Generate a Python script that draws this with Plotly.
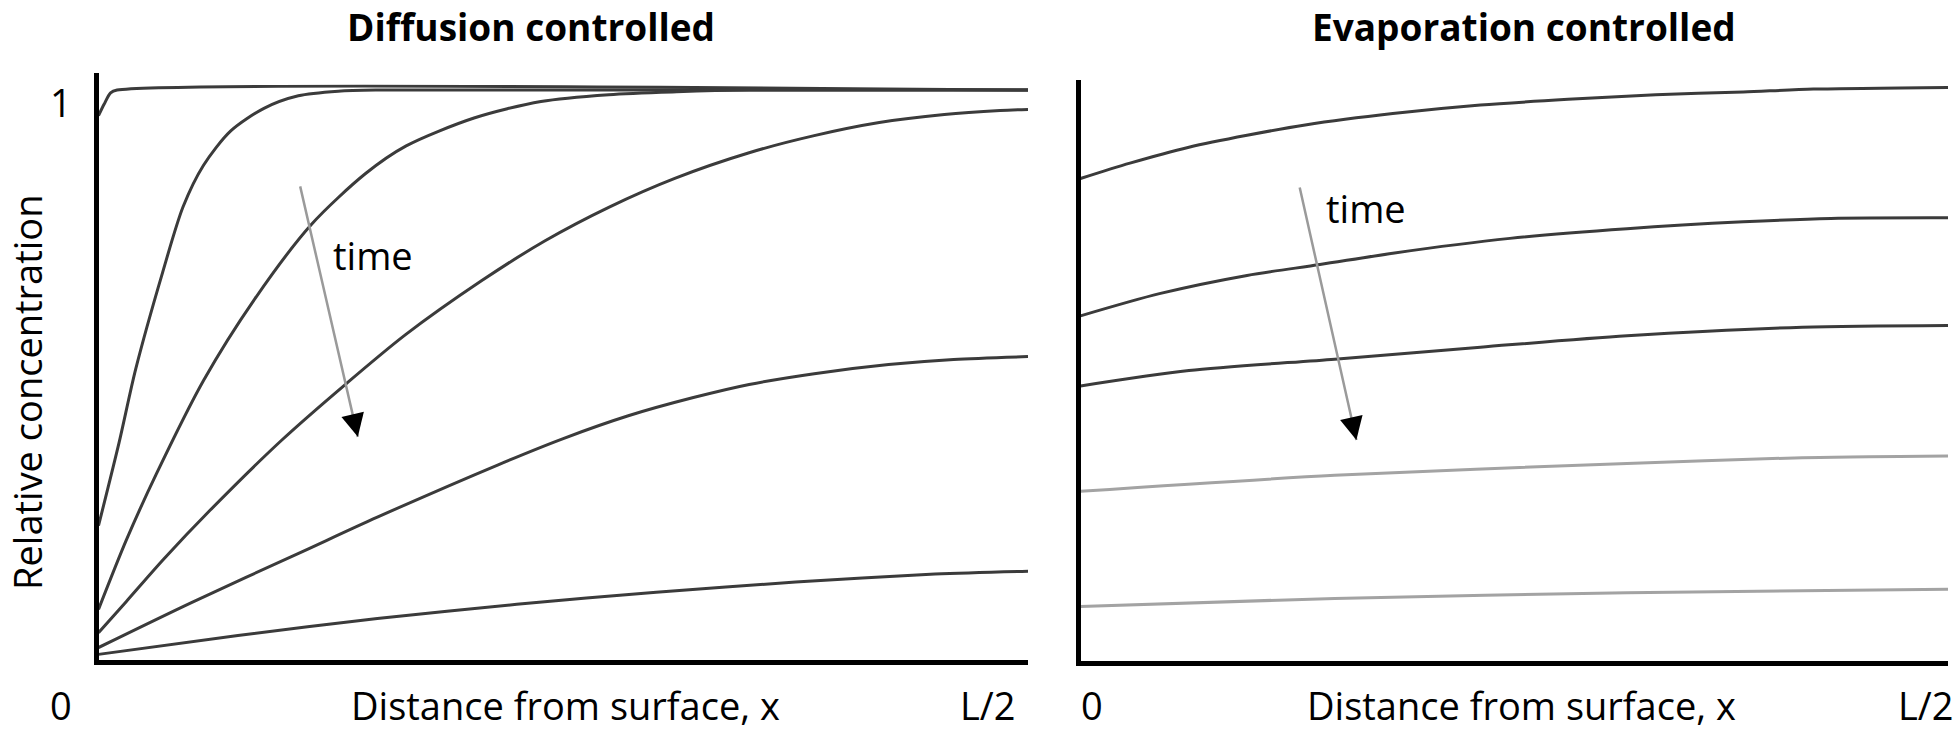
import plotly.graph_objects as go

# ---------------- data ----------------
# Left panel: diffusion controlled, x = distance / (L/2), y = relative concentration
diff_x1 = [0, 0.006, 0.013, 0.02, 1.0]
diff_y1 = [0.955, 0.975, 0.995, 1.0, 1.0]
diff_x2 = [0, 0.022, 0.040, 0.069, 0.091, 0.113, 0.142, 0.178, 0.215, 0.258, 0.30, 1.0]
diff_y2 = [0.235, 0.38, 0.51, 0.68, 0.795, 0.868, 0.928, 0.968, 0.99, 0.998, 1.0, 1.0]
diff_x3 = [0, 0.03, 0.062, 0.113, 0.168, 0.229, 0.287, 0.331, 0.404, 0.476, 0.549, 0.622, 0.7, 1.0]
diff_y3 = [0.088, 0.21, 0.325, 0.49, 0.633, 0.764, 0.853, 0.902, 0.951, 0.980, 0.992, 0.997, 1.0, 1.0]
diff_x4 = [0, 0.03, 0.07, 0.12, 0.197, 0.267, 0.33, 0.412, 0.48, 0.55, 0.62, 0.70, 0.77, 0.84, 0.91, 0.97, 1.0]
diff_y4 = [0.047, 0.102, 0.176, 0.262, 0.385, 0.485, 0.57, 0.665, 0.735, 0.795, 0.845, 0.89, 0.92, 0.943, 0.957, 0.964, 0.966]
diff_x5 = [0, 0.1, 0.22, 0.3, 0.43, 0.5, 0.57, 0.64, 0.7, 0.77, 0.85, 0.92, 1.0]
diff_y5 = [0.021, 0.1, 0.19, 0.25, 0.342, 0.388, 0.428, 0.46, 0.483, 0.502, 0.518, 0.527, 0.532]
diff_x6 = [0, 0.15, 0.3, 0.45, 0.6, 0.75, 0.9, 1.0]
diff_y6 = [0.009, 0.042, 0.072, 0.097, 0.118, 0.136, 0.15, 0.155]

# Right panel: evaporation controlled
evap_x1 = [0, 0.057, 0.125, 0.192, 0.259, 0.36, 0.461, 0.562, 0.663, 0.764, 0.845, 1.0]
evap_y1 = [0.846, 0.873, 0.901, 0.922, 0.94, 0.96, 0.975, 0.985, 0.993, 0.998, 1.003, 1.006]
evap_x2 = [0, 0.091, 0.192, 0.276, 0.36, 0.495, 0.63, 0.764, 0.865, 1.0]
evap_y2 = [0.605, 0.644, 0.676, 0.695, 0.715, 0.741, 0.758, 0.770, 0.776, 0.777]
evap_x3 = [0, 0.125, 0.293, 0.461, 0.63, 0.832, 1.0]
evap_y3 = [0.482, 0.509, 0.529, 0.55, 0.57, 0.585, 0.588]
evap_x4 = [0, 0.293, 0.63, 0.832, 1.0]
evap_y4 = [0.297, 0.325, 0.346, 0.356, 0.359]
evap_x5 = [0, 0.293, 0.63, 1.0]
evap_y5 = [0.095, 0.109, 0.119, 0.125]

titles = ["Diffusion controlled", "Evaporation controlled"]
x_title = "Distance from surface, x"
y_title = "Relative concentration"
x_tick_labels = ["0", "L/2"]
y_tick_label = "1"
arrow_label = "time"

# ---------------- styling ----------------
W, H = 1958, 732
DARK = "#3b3b3b"
LIGHT = "#a3a3a3"
FONT = "Open Sans"
FS = 38

def px(x):
    return x / W

def py(y):
    return 1 - y / H

fig = go.Figure()

left = [(diff_x1, diff_y1), (diff_x2, diff_y2), (diff_x3, diff_y3),
        (diff_x4, diff_y4), (diff_x5, diff_y5), (diff_x6, diff_y6)]
for xs, ys in left:
    fig.add_trace(go.Scatter(x=xs, y=ys, mode="lines", xaxis="x", yaxis="y",
                             line=dict(color=DARK, width=3, shape="spline", smoothing=0.8),
                             showlegend=False, hoverinfo="skip"))

right = [(evap_x1, evap_y1, DARK), (evap_x2, evap_y2, DARK), (evap_x3, evap_y3, DARK),
         (evap_x4, evap_y4, LIGHT), (evap_x5, evap_y5, LIGHT)]
for xs, ys, c in right:
    fig.add_trace(go.Scatter(x=xs, y=ys, mode="lines", xaxis="x2", yaxis="y2",
                             line=dict(color=c, width=3, shape="spline", smoothing=0.8),
                             showlegend=False, hoverinfo="skip"))

axis_common = dict(showline=True, linecolor="black", linewidth=5, showgrid=False,
                   zeroline=False, showticklabels=False, ticks="")

fig.update_layout(
    width=W, height=H,
    margin=dict(l=0, r=0, t=0, b=0),
    paper_bgcolor="white", plot_bgcolor="white",
    xaxis=dict(domain=[px(98.5), px(1028)], range=[0, 1], anchor="y", **axis_common),
    yaxis=dict(domain=[py(659.5), py(73)], range=[0, 1.03], anchor="x", **axis_common),
    xaxis2=dict(domain=[px(1080.5), px(1948)], range=[0, 1], anchor="y2", **axis_common),
    yaxis2=dict(domain=[py(660.5), py(80)], range=[0, 1.019], anchor="x2", **axis_common),
    font=dict(family=FONT, size=FS, color="black"),
)

ann = []
def text(t, x, y, size=FS, bold=False, angle=0, xanchor="center"):
    ann.append(dict(text=("<b>%s</b>" % t) if bold else t, x=px(x), y=py(y),
                    xref="paper", yref="paper", showarrow=False,
                    xanchor=xanchor, yanchor="middle", textangle=angle,
                    font=dict(family=FONT, size=size, color="black")))

text(titles[0], 531, 26, size=37, bold=True)
text(titles[1], 1524, 26, size=37, bold=True)
text(x_title, 565, 705)
text(x_title, 1521, 705)
text(x_tick_labels[0], 61, 705)
text(x_tick_labels[1], 988, 705)
text(x_tick_labels[0], 1092, 705)
text(x_tick_labels[1], 1956, 705, xanchor="right")
text(y_tick_label, 61, 102)
text(y_title, 27, 392, angle=-90)
text(arrow_label, 373, 255)
text(arrow_label, 1366, 208)

# arrows: gray shaft + black head
def arrow(xref, yref, tipx, tipy, dx, dy):
    L = (dx * dx + dy * dy) ** 0.5
    ux, uy = dx / L, dy / L
    ann.append(dict(x=tipx, y=tipy, xref=xref, yref=yref, axref="pixel", ayref="pixel",
                    ax=-dx, ay=-dy, showarrow=True, arrowhead=0, arrowwidth=2.5,
                    arrowcolor="#9a9a9a", text=""))
    ann.append(dict(x=tipx, y=tipy, xref=xref, yref=yref, axref="pixel", ayref="pixel",
                    ax=-ux * 18, ay=-uy * 18, showarrow=True, arrowhead=2, arrowwidth=2,
                    arrowsize=2.3, arrowcolor="black", text=""))

arrow("x", "y", 0.279, 0.391, 58, 252)
arrow("x2", "y2", 0.318, 0.387, 57, 254)

fig.update_layout(annotations=ann)
fig.write_html("out.html", config={"displayModeBar": False},
               post_script="document.body.style.margin='0';document.body.style.overflow='hidden';")
